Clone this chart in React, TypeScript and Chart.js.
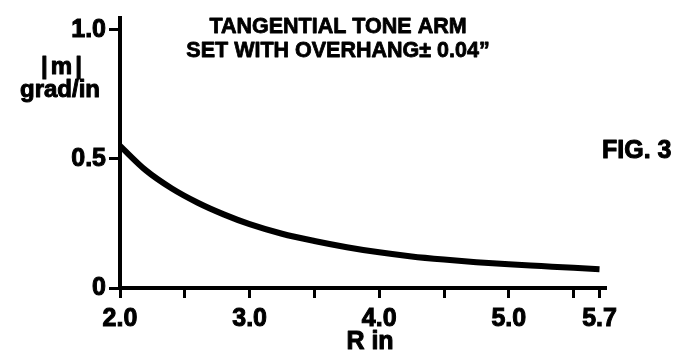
import React, { useEffect, useRef } from "react";
import { Chart, registerables } from "chart.js";

Chart.register(...registerables);

// Data
const radiusIn = [2.0, 2.2, 2.4, 2.6, 2.8, 3.0, 3.25, 3.5, 3.75, 4.0, 4.25, 4.5, 4.75, 5.0, 5.25, 5.5, 5.7];
const slopeM = [0.55, 0.455, 0.385, 0.33, 0.285, 0.247, 0.21, 0.182, 0.158, 0.138, 0.122, 0.11, 0.1, 0.092, 0.085, 0.078, 0.073];

const xTickValues = [2.0, 2.5, 3.0, 3.5, 4.0, 4.5, 5.0, 5.5, 5.7];
const xTickLabels = ["2.0", "", "3.0", "", "4.0", "", "5.0", "", "5.7"];
const yTickValues = [0, 0.5, 1.0];
const yTickLabels = ["0", "0.5", "1.0"];

const titleLines = ["TANGENTIAL TONE ARM", "SET WITH OVERHANG\u00B1 0.04\u201D"];
const yAxisLabelLines = ["|m|", "grad/in"];
const xAxisLabel = "R in";
const figLabel = "FIG. 3";

const FONT = "'Liberation Sans', Arial, Helvetica, sans-serif";

function heavyText(ctx: any, s: string, x: number, y: number) {
  ctx.fillText(s, x, y);
  ctx.strokeText(s, x, y);
}

const textPlugin = {
  id: "figText",
  afterDraw(chart: any) {
    const ctx = chart.ctx;
    ctx.save();
    ctx.fillStyle = "#000";
    ctx.strokeStyle = "#000";
    ctx.lineWidth = 0.8;
    ctx.lineJoin = "round";
    ctx.textBaseline = "alphabetic";
    // Title
    ctx.font = `bold 21.5px ${FONT}`;
    ctx.textAlign = "center";
    heavyText(ctx, titleLines[0], 338, 33);
    heavyText(ctx, titleLines[1], 338, 57);
    // Y axis label
    ctx.font = `bold 24px ${FONT}`;
    ctx.lineWidth = 1;
    try { ctx.letterSpacing = "3px"; } catch (e) {}
    heavyText(ctx, yAxisLabelLines[0], 63, 74);
    try { ctx.letterSpacing = "0px"; } catch (e) {}
    heavyText(ctx, yAxisLabelLines[1], 60, 97);
    // X axis label
    ctx.font = `bold 25px ${FONT}`;
    heavyText(ctx, xAxisLabel, 370, 349);
    // FIG label
    ctx.textAlign = "left";
    heavyText(ctx, figLabel, 602, 158);
    ctx.restore();
  },
};

export default function App() {
  const ref = useRef<HTMLCanvasElement>(null);
  useEffect(() => {
    if (!ref.current) return;
    const chart = new Chart(ref.current, {
      type: "line",
      data: {
        datasets: [
          {
            data: radiusIn.map((x, i) => ({ x, y: slopeM[i] })),
            borderColor: "#000",
            borderWidth: 6,
            pointRadius: 0,
            cubicInterpolationMode: "monotone",
            fill: false,
            borderCapStyle: "butt",
          },
        ],
      },
      options: {
        animation: false,
        responsive: false,
        events: [],
        layout: { padding: { left: 0, right: 78, top: 13, bottom: 0 } },
        plugins: { legend: { display: false }, tooltip: { enabled: false }, title: { display: false } },
        scales: {
          x: {
            type: "linear",
            min: 2.0,
            max: 5.75,
            afterBuildTicks: (scale: any) => {
              scale.ticks = xTickValues.map((v) => ({ value: v }));
            },
            afterFit: (scale: any) => {
              scale.height = 68;
            },
            border: { display: true, color: "#000", width: 4 },
            grid: { drawOnChartArea: false, drawTicks: true, tickLength: 10, tickWidth: 3, tickColor: "#000" },
            ticks: {
              autoSkip: false,
              maxRotation: 0,
              padding: 6,
              color: "#000",
              textStrokeColor: "#000",
              textStrokeWidth: 1,
              font: { family: FONT, size: 25, weight: "bold" },
              callback: (value: any) => {
                const i = xTickValues.findIndex((v) => Math.abs(v - Number(value)) < 1e-6);
                return i >= 0 ? xTickLabels[i] : "";
              },
            },
          },
          y: {
            type: "linear",
            min: 0,
            max: 1.045,
            afterBuildTicks: (scale: any) => {
              scale.ticks = yTickValues.map((v) => ({ value: v }));
            },
            afterFit: (scale: any) => {
              scale.width = 120;
            },
            border: { display: true, color: "#000", width: 4 },
            grid: { drawOnChartArea: false, drawTicks: true, tickLength: 11, tickWidth: 3, tickColor: "#000" },
            ticks: {
              padding: 3,
              color: "#000",
              textStrokeColor: "#000",
              textStrokeWidth: 1,
              font: { family: FONT, size: 25, weight: "bold" },
              callback: (value: any) => {
                const i = yTickValues.findIndex((v) => Math.abs(v - Number(value)) < 1e-6);
                return i >= 0 ? yTickLabels[i] : "";
              },
            },
          },
        },
      },
      plugins: [textPlugin],
    } as any);
    return () => chart.destroy();
  }, []);
  return (
    <div style={{ position: "absolute", left: 0, top: 0, width: 684, height: 356, background: "#fff" }}>
      <canvas ref={ref} width={684} height={356} style={{ display: "block" }} />
    </div>
  );
}
